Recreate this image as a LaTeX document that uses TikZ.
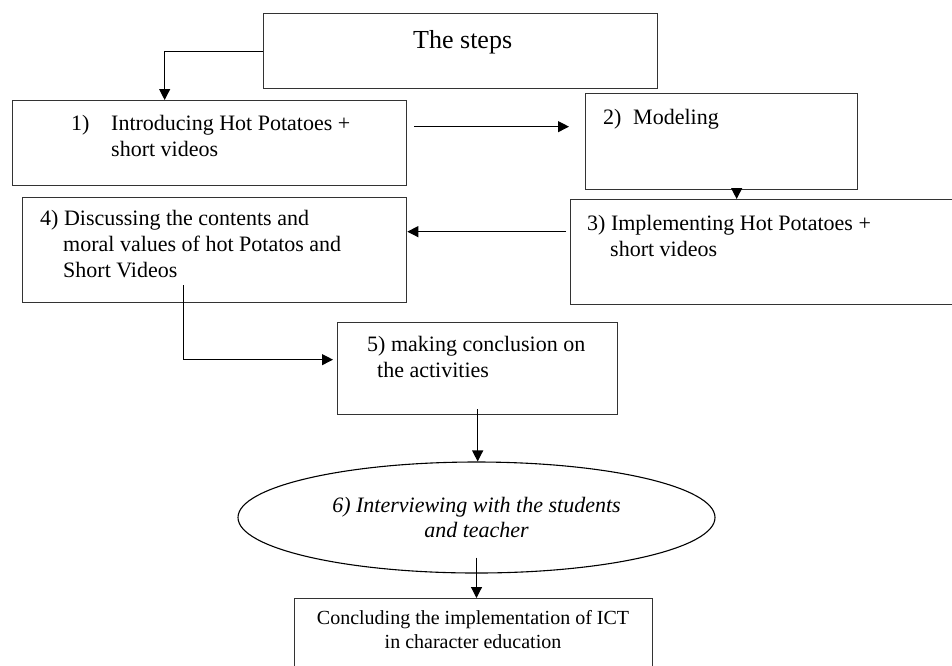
\documentclass[tikz,border=0pt]{standalone}
\usepackage{fontspec}
\setmainfont{Liberation Serif}
\usetikzlibrary{arrows.meta,shapes}
\tikzstyle{stepbox}=[draw=black!80,line width=1.3pt,inner sep=0pt,anchor=north west]
\tikzstyle{steptext}=[inner sep=0pt,anchor=base west]
\tikzstyle{link}=[draw,line width=1.1pt,-{Triangle[length=11pt,width=11pt]}]
\newcommand{\steplines}[1]{\begin{tabular}[t]{@{}l@{}}#1\end{tabular}}

\begin{document}
\begin{tikzpicture}[x=1pt,y=-1pt,font=\fontsize{22}{26}\selectfont]
    \clip (0,0) rectangle (952,665);
    % First we draw the boxes
    \foreach \pos/\name/\w/\h in {{(263,13)/steps/394/75}, {(12,100)/b1/394/85}, {(585,93)/b2/272/96},
        {(570,199)/b3/420/105}, {(22,197)/b4/384/105}, {(337,322)/b5/280/92}, {(294,598)/b7/358/100}}
        \node[stepbox,minimum width=\w pt,minimum height=\h pt] (\name) at \pos {};
    \node[ellipse,draw,line width=1.1pt,minimum width=477pt,minimum height=111pt,inner sep=0pt,
        align=center,font=\itshape\fontsize{22}{25}\selectfont] (e6) at (476.5,517.5)
        {6) Interviewing with the students\\and teacher};
    % Then the texts in the boxes
    \node[steptext,font=\fontsize{26}{30}\selectfont] (tsteps) at (413,48) {The steps};
    \node[steptext] (t1) at (71,130) {\steplines{\makebox[40pt][l]{1)}Introducing Hot Potatoes +\\\hspace*{40pt}short videos}};
    \node[steptext] (t2) at (603,124) {\makebox[30pt][l]{2)}Modeling};
    \node[steptext] (t3) at (587,230) {\steplines{3) Implementing Hot Potatoes +\\\hspace*{23pt}short videos}};
    \node[steptext] (t4) at (40,225) {\steplines{4) Discussing the contents and\\\hspace*{23pt}moral values of hot Potatos and\\\hspace*{23pt}Short Videos}};
    \node[steptext] (t5) at (367,351) {\steplines{5) making conclusion on\\\hspace*{10pt}the activities}};
    \node[steptext,anchor=base,font=\fontsize{20}{24}\selectfont] (t7) at (473,624)
        {\begin{tabular}[t]{@{}c@{}}Concluding the implementation of ICT\\in character education\end{tabular}};
    % Connect boxes with arrows
    \coordinate (p12) at ([xshift=7pt,yshift=16.5pt]b1.east);
    \coordinate (p23) at ([xshift=15pt]b2.south);
    \coordinate (p34) at ([xshift=-4pt,yshift=20.5pt]b3.west);
    \coordinate (q45) at ([xshift=-31pt,yshift=18pt]b4.south);
    \coordinate (p45) at ([xshift=-4pt,yshift=9pt]b5.west);
    \coordinate (p56) at ([yshift=6pt]b5.south);
    \coordinate (p67) at ([yshift=16pt]e6.south);
    \draw[link] (steps.west) -| ([xshift=-45pt]b1.north);
    \draw[link,shorten >=16pt] (p12) -- (p12 -| b2.west);
    \draw[link] (p23) -- (p23 |- b3.north);
    \draw[link] (p34) -- (p34 -| b4.east);
    \draw[link] (q45) |- (p45);
    \draw[link] (p56) -- (p56 |- e6.north);
    \draw[link] (p67) -- (p67 |- b7.north);
\end{tikzpicture}
\end{document}
